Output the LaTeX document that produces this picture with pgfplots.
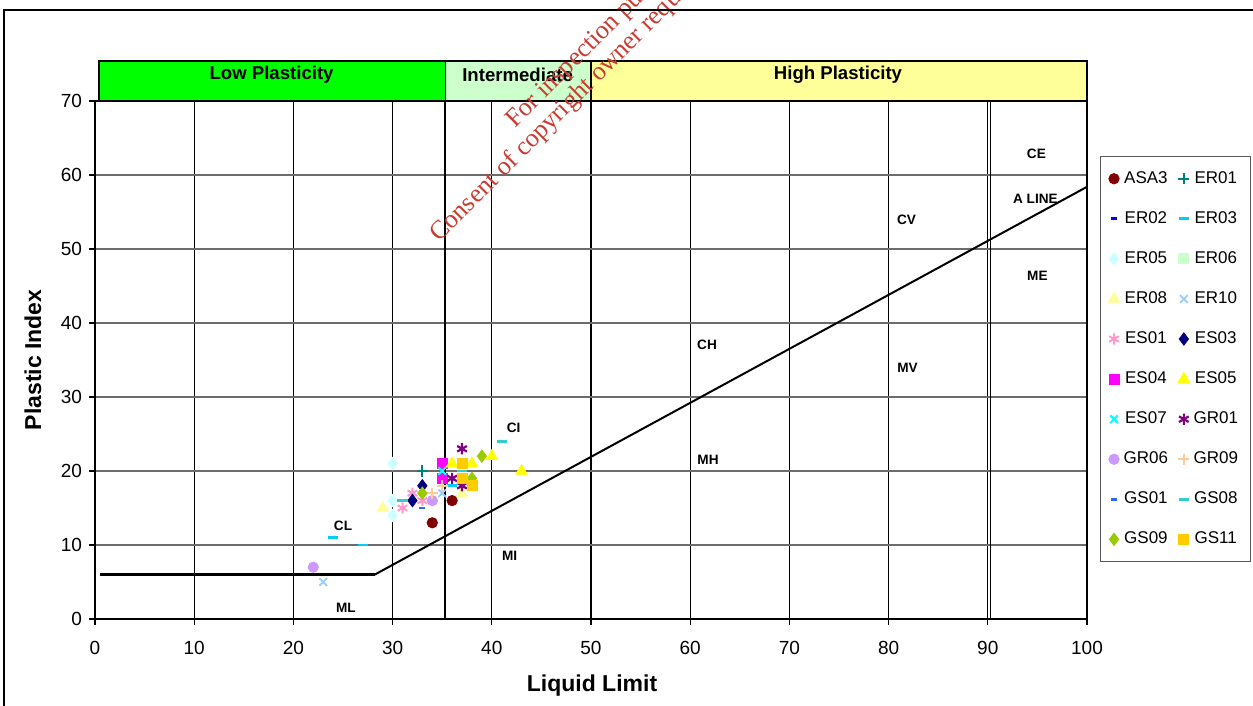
\documentclass[border=0pt]{standalone}
\usepackage{pgfplots}
\pgfplotsset{compat=1.18}
\usepackage{fontspec}
\setmainfont{Liberation Sans}
\newfontfamily\wmfont{Liberation Serif}
\definecolor{cASA}{HTML}{800000}
\definecolor{cERa}{HTML}{008080}
\definecolor{cERb}{HTML}{0000FF}
\definecolor{cERc}{HTML}{00CCFF}
\definecolor{cERe}{HTML}{CCFFFF}
\definecolor{cERf}{HTML}{CCFFCC}
\definecolor{cERh}{HTML}{FFFF99}
\definecolor{cERj}{HTML}{99CCFF}
\definecolor{cESa}{HTML}{FF99CC}
\definecolor{cESc}{HTML}{000080}
\definecolor{cESd}{HTML}{FF00FF}
\definecolor{cESe}{HTML}{FFFF00}
\definecolor{cESg}{HTML}{00FFFF}
\definecolor{cGRa}{HTML}{800080}
\definecolor{cGRf}{HTML}{CC99FF}
\definecolor{cGRi}{HTML}{FFCC99}
\definecolor{cGSa}{HTML}{3366FF}
\definecolor{cGSh}{HTML}{33CCCC}
\definecolor{cGSi}{HTML}{99CC00}
\definecolor{cGSk}{HTML}{FFCC00}
\definecolor{bandlow}{HTML}{00FF00}
\definecolor{bandmid}{HTML}{CCFFCC}
\definecolor{bandhigh}{HTML}{FFFF99}
\definecolor{wmred}{RGB}{200,60,50}
\begin{document}
\begin{tikzpicture}
\begin{axis}[
  name=ax,
  scale only axis, width=496pt, height=259pt,
  xmin=0, xmax=100, ymin=0, ymax=70,
  xtick={0,10,...,100}, ytick={0,10,...,70},
  grid=major,
  x grid style={black, line width=0.6pt},
  y grid style={gray!85!black, line width=0.6pt},
  axis line style={black, line width=0.6pt},
  tick align=outside, tick pos=left, major tick length=3pt,
  tick style={black, line width=0.6pt},
  tick label style={font=\fontsize{9.5}{10}\selectfont},
  xticklabel style={yshift=-4.5pt},
  /pgf/number format/assume math mode=true,
  xlabel={Liquid Limit}, ylabel={Plastic Index},
  label style={font=\bfseries\fontsize{11.5}{13}\selectfont},
  xlabel style={at={(axis description cs:0.501,-0.129)}, anchor=center},
  ylabel style={at={(axis description cs:-0.0625,0.5)}, anchor=center},
  clip=false,
  legend columns=2,
  legend style={at={(1.013,0.894)}, anchor=north west, draw=gray!70!black,
    font=\fontsize{8.5}{9}\selectfont, row sep=8.6pt, inner xsep=4pt, inner ysep=5.5pt,
    /tikz/column 2/.style={column sep=3pt}},
  pts/.style={only marks, mark size=2.6pt},
]
% bands
\addplot[fill=bandlow, draw=black, line width=0.6pt, no markers, forget plot] coordinates {(0.4,70)(35.3,70)(35.3,75.4)(0.4,75.4)} -- cycle;
\addplot[fill=bandmid, draw=black, line width=0.6pt, no markers, forget plot] coordinates {(35.3,70)(50,70)(50,75.4)(35.3,75.4)} -- cycle;
\addplot[fill=bandhigh, draw=black, line width=0.6pt, no markers, forget plot] coordinates {(50,70)(100,70)(100,75.4)(50,75.4)} -- cycle;
\begin{scope}[every node/.style={font=\bfseries\fontsize{9.3}{10}\selectfont}]
\node at (axis cs:17.8,73.5) {Low Plasticity};
\node at (axis cs:42.6,73.5) {Intermediate};
\node at (axis cs:74.9,73.5) {High Plasticity};
\end{scope}
% boundary lines
\addplot[black, line width=0.8pt, no markers, forget plot] coordinates {(35.3,0)(35.3,70)};
\addplot[black, line width=0.6pt, no markers, forget plot] coordinates {(90.25,0)(90.25,70)};
% A line
\addplot[black, line width=1.3pt, no markers, forget plot] coordinates {(0.5,6)(28.2,6)};
\addplot[black, line width=1pt, no markers, forget plot] coordinates {(28.2,6)(100,58.4)};
% region labels
\begin{scope}[every node/.style={font=\bfseries\fontsize{6.8}{7}\selectfont}]
\node at (axis cs:25.0,12.6) {CL};
\node at (axis cs:42.2,25.8) {CI};
\node at (axis cs:25.3,1.5) {ML};
\node at (axis cs:41.8,8.5) {MI};
\node at (axis cs:61.7,37) {CH};
\node at (axis cs:61.8,21.5) {MH};
\node at (axis cs:81.8,53.9) {CV};
\node at (axis cs:81.9,33.9) {MV};
\node at (axis cs:94.9,62.8) {CE};
\node at (axis cs:95.0,46.4) {ME};
\node at (axis cs:94.8,56.8) {A LINE};
\end{scope}
% data
\addplot[pts, mark=*, color=cASA] coordinates {(36,16)(34,13)};
\addlegendentry{ASA3}
\addplot[pts, mark=+, color=cERa, mark size=2.8pt, mark options={line width=1pt}] coordinates {(33,20)};
\addlegendentry{ER01}
\addplot[pts, mark=-, color=cERb, mark size=1.5pt, mark options={line width=1.4pt}] coordinates {(33,15)};
\addlegendentry{ER02}
\addplot[pts, mark=-, color=cERc, mark size=2.6pt, mark options={line width=1.4pt}] coordinates {(24,11)(27,10)(36,18)};
\addlegendentry{ER03}
\addplot[pts, mark=diamond*, color=cERe, mark size=3.1pt] coordinates {(30,21)(30,16)(30,14)};
\addlegendentry{ER05}
\addplot[pts, mark=square*, color=cERf, mark size=2.5pt] coordinates {(35,21)};
\addlegendentry{ER06}
\addplot[pts, mark=triangle*, color=cERh, mark size=3.3pt] coordinates {(29,15)(37,17)};
\addlegendentry{ER08}
\addplot[pts, mark=x, color=cERj, mark size=2.7pt, mark options={line width=0.9pt}] coordinates {(35,17)(23,5)};
\addlegendentry{ER10}
\addplot[pts, mark=asterisk, color=cESa, mark size=2.8pt, mark options={line width=1pt}] coordinates {(32,17)(31,15)(33,16)};
\addlegendentry{ES01}
\addplot[pts, mark=diamond*, color=cESc, mark size=3.1pt] coordinates {(32,16)(33,18)};
\addlegendentry{ES03}
\addplot[pts, mark=square*, color=cESd, mark size=2.5pt] coordinates {(35,21)(35,19)};
\addlegendentry{ES04}
\addplot[pts, mark=triangle*, color=cESe, mark size=3.3pt] coordinates {(36,21)(38,21)(40,22)(43,20)};
\addlegendentry{ES05}
\addplot[pts, mark=x, color=cESg, mark size=2.7pt, mark options={line width=1pt}] coordinates {(35,20)};
\addlegendentry{ES07}
\addplot[pts, mark=asterisk, color=cGRa, mark size=2.8pt, mark options={line width=1.1pt}] coordinates {(37,23)(36,19)(37,18)};
\addlegendentry{GR01}
\addplot[pts, mark=*, color=cGRf] coordinates {(34,16)(22,7)};
\addlegendentry{GR06}
\addplot[pts, mark=+, color=cGRi, mark size=2.8pt, mark options={line width=1pt}] coordinates {(34,17)(35,18)};
\addlegendentry{GR09}
\addplot[pts, mark=-, color=cGSa, mark size=1.5pt, mark options={line width=1.4pt}] coordinates {(33,15)};
\addlegendentry{GS01}
\addplot[pts, mark=-, color=cGSh, mark size=2.6pt, mark options={line width=1.4pt}] coordinates {(41,24)(37,20)(31,16)};
\addlegendentry{GS08}
\addplot[pts, mark=diamond*, color=cGSi, mark size=3.1pt] coordinates {(39,22)(33,17)(38,19)};
\addlegendentry{GS09}
\addplot[pts, mark=square*, color=cGSk, mark size=2.5pt] coordinates {(37,21)(37,19)(38,18)};
\addlegendentry{GS11}
\end{axis}
% watermark
\node[text=wmred, font=\wmfont\fontsize{13}{14}\selectfont, rotate=45, anchor=base west, inner sep=0pt] at (210pt,245pt) {For inspection purposes only.};
\node[text=wmred, font=\wmfont\fontsize{13}{14}\selectfont, rotate=45, anchor=base west, inner sep=0pt] at (172pt,188pt) {Consent of copyright owner required for any other use.};
% outer frame
\draw[black, line width=0.75pt] (-45.5pt,-80pt) -- (-45.5pt,304.5pt) -- (640pt,304.5pt);
\pgfresetboundingbox
\path (-47.5pt,-43.5pt) rectangle (579pt,309.5pt);
\end{tikzpicture}
\end{document}
